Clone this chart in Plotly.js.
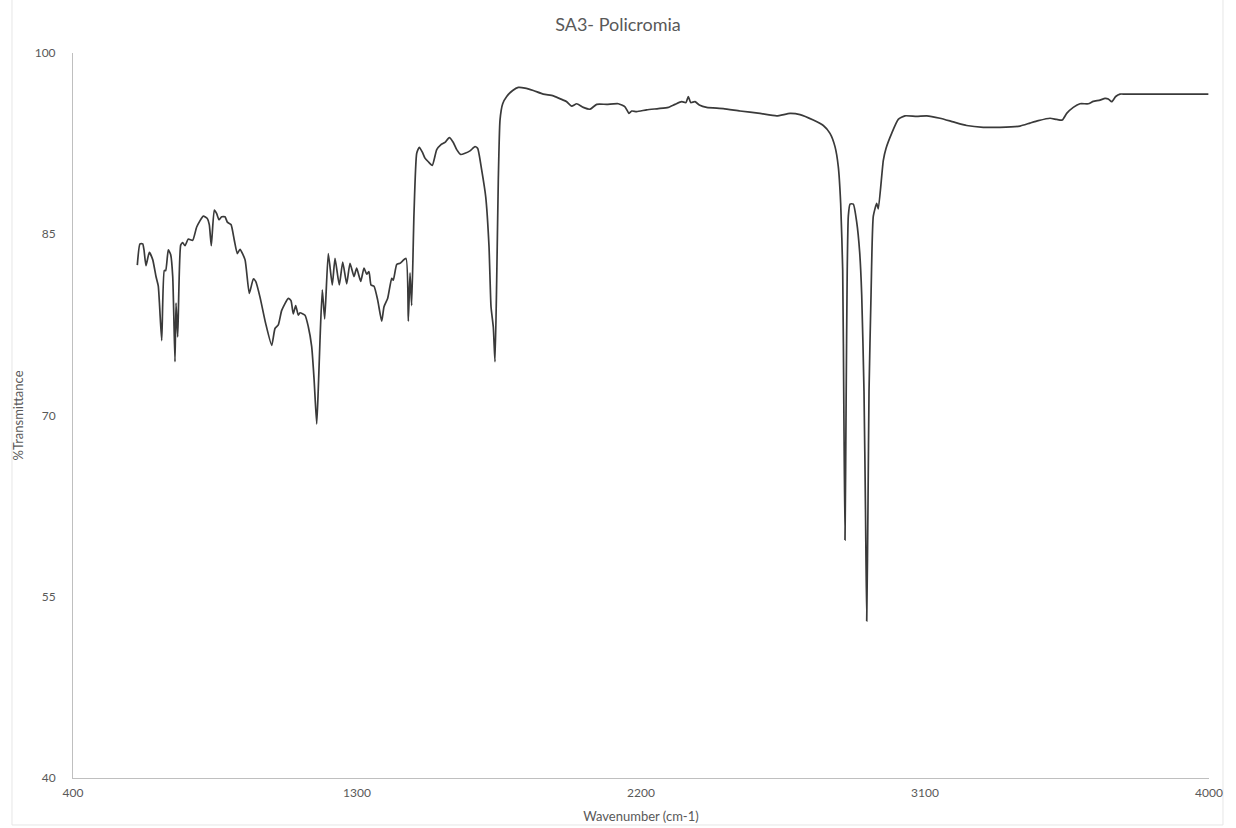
<!DOCTYPE html>
<html>
<head>
<meta charset="utf-8">
<script src="https://cdn.plot.ly/plotly-3.0.1.min.js"></script>
<style>
html,body{margin:0;padding:0;background:#fff;}
#chart{width:1236px;height:828px;}
</style>
</head>
<body>
<div id="chart"></div>
<script>
// Wavenumber (cm-1)
const wavenumber = [
 603.8,612.3,620.9,625,631.3,641.8,652.6,663,670.3,681.1,689.3,693.8,702,709.6,716,723.2,726.4,731.8,741.3,747.6,
 754.9,765.4,779.3,792,812.9,825.6,831.9,838.3,847.8,855.4,862.7,871.2,881.7,889,900.7,911.2,920.7,929.2,945.1,958.7,
 971.4,979,992.6,1010.7,1029.7,1040.1,1050.6,1061.4,1082.3,1090.8,1098.1,1105.7,1114,1119.4,1135.2,1145.7,1156.4,1164,1172.3,1177,
 1182.7,1190,1197.6,1209,1221.7,1230.3,1243.9,1254.7,1267.3,1277.8,1290.5,1299,1311.7,1322.2,1330.7,1338,1344.4,1353.9,1365.6,1378.3,
 1385.6,1397.3,1410,1415,1425.8,1436.3,1455.3,1462.6,1468,1473.2,1480.6,1489.2,1497.4,1507,1515.5,1526,1538.6,1552.6,1565.3,1578.9,
 1592.5,1605.2,1616,1628.6,1642.3,1658.1,1674,1682.5,1695.2,1707.9,1718.3,1724.7,1732,1737.3,1742.7,1747.8,1753.2,1761.7,1774.4,1793.4,
 1811.2,1832.4,1858.7,1890.4,1922.1,1953.8,1964.5,1980.4,1996.2,2017.2,2038.4,2059.6,2091.3,2128.1,2149.3,2162,2170.5,2186.4,2218.1,2254.9,
 2286.5,2307.8,2329,2342.6,2349.9,2357.5,2371.1,2384.8,2408.2,2460.9,2513.8,2577.1,2630,2672.2,2703.9,2746,2777.7,2798.9,2814.8,2825.2,
 2832.8,2839.2,2843,2846.5,2850,2853.5,2857,2862.4,2872.8,2883.6,2893,2899.4,2906.7,2911.5,2915.3,2919.5,2922.6,2929,2936.2,2947,
 2952,2967.8,2976.4,2994.4,3015.3,3036.6,3073.6,3105.3,3147.5,3189.6,3232.1,3284.7,3337.6,3401,3432.7,3459,3496.1,3517.3,3535.1,3549,
 3569.9,3591.2,3617.5,3633.3,3654.6,3670.4,3680.9,3691.7,3704.4,3718,3733.8,3813,3918.6,3998
];
// %Transmittance
const transmittance = [
 82.45,84.2,84.2,83.7,82.4,83.5,82.9,81.5,80.7,76.2,82.0,82.0,83.7,83.3,81.5,74.45,79.3,76.5,84.1,84.3,
 84.05,84.6,84.5,85.6,86.5,86.3,85.8,84.05,87.0,86.7,86.2,86.45,86.45,86.0,85.8,84.5,83.4,83.75,82.9,80.1,
 81.3,81.1,79.8,77.6,75.8,77.2,77.5,78.7,79.7,79.5,78.4,79.1,78.3,78.5,78.3,77.35,75.7,73.0,69.3,72.0,
 76.2,80.4,78.0,83.4,80.8,83.0,80.8,82.7,80.9,82.6,81.5,82.2,81.1,82.2,81.7,81.9,80.8,80.7,79.55,77.8,
 79.0,79.7,81.35,81.2,82.5,82.6,83.0,77.8,81.8,79.1,86.7,91.7,92.2,91.8,91.3,91.0,90.7,92.0,92.4,92.6,
 93.0,92.6,92.0,91.6,91.7,91.9,92.25,92.1,90.3,88.1,84.0,79.0,77.3,74.45,81.2,89.5,94.45,95.8,96.4,96.9,
 97.15,97.1,96.9,96.6,96.45,96.1,95.97,95.6,95.8,95.5,95.35,95.75,95.75,95.8,95.55,95.0,95.2,95.15,95.3,95.4,
 95.5,95.75,95.97,95.9,96.4,95.9,95.97,95.7,95.5,95.4,95.2,95.0,94.8,95.0,94.9,94.45,94.0,93.35,92.25,90.6,
 87.55,82.0,70.0,59.7,71.0,82.0,86.5,87.5,87.5,86.0,83.5,80.0,72.0,62.0,53.0,63.0,72.0,80.0,86.5,87.55,
 87.1,91.1,92.1,93.35,94.5,94.8,94.75,94.8,94.6,94.3,94.0,93.85,93.85,93.95,94.2,94.4,94.6,94.5,94.45,95.0,
 95.5,95.8,95.8,96.0,96.1,96.25,96.2,95.97,96.4,96.6,96.6,96.6,96.6,96.6
];
const xTicks = [400, 1300, 2200, 3100, 4000];
const yTicks = [40, 55, 70, 85, 100];

const FONT = 'Lato, "Open Sans", "Liberation Sans", sans-serif';
const trace = {
  x: wavenumber, y: transmittance, type: 'scatter', mode: 'lines',
  line: {color: '#3a3a3a', width: 1.7, shape: 'spline', smoothing: 0.5}, hoverinfo: 'x+y'
};
const layout = {
  width: 1236, height: 828,
  margin: {l: 73, r: 27, t: 53, b: 50, pad: 0},
  paper_bgcolor: '#ffffff', plot_bgcolor: '#ffffff',
  showlegend: false,
  font: {family: FONT, color: '#595959', size: 12},
  title: {text: 'SA3- Policromia', font: {family: FONT, size: 18, color: '#595959'}, x: 0.5, xanchor: 'center', y: 0.97, yanchor: 'middle'},
  xaxis: {
    range: [400, 4000], tickvals: xTicks, ticktext: xTicks.map(String),
    showgrid: false, zeroline: false, showline: true, linecolor: '#bfbfbf', linewidth: 1,
    ticks: '', ticklabelstandoff: 4, tickfont: {family: FONT, size: 12, color: '#595959'},
    title: {text: 'Wavenumber (cm-1)', font: {family: FONT, size: 13, color: '#595959'}, standoff: 12}
  },
  yaxis: {
    range: [40, 100], tickvals: yTicks, ticktext: yTicks.map(String),
    showgrid: false, zeroline: false, showline: true, linecolor: '#bfbfbf', linewidth: 1,
    ticks: '', ticklabelstandoff: 14, tickfont: {family: FONT, size: 12, color: '#595959'},
    title: {text: '%Transmittance', font: {family: FONT, size: 13, color: '#595959'}, standoff: 8}
  },
  shapes: [{
    type: 'rect', xref: 'paper', yref: 'paper',
    x0: -0.0537, x1: 1.0123, y0: -0.0648, y1: 1.2,
    line: {color: '#e6e6e6', width: 1}, fillcolor: 'rgba(0,0,0,0)', layer: 'below'
  }]
};
Plotly.newPlot('chart', [trace], layout, {displayModeBar: false, staticPlot: true});
</script>
</body>
</html>
